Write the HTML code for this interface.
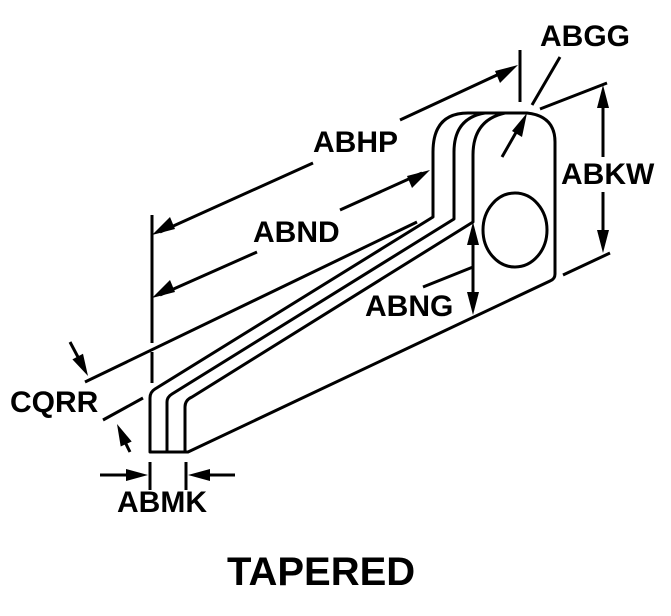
<!DOCTYPE html>
<html><head><style>
html,body{margin:0;padding:0;background:#fff;}
svg{display:block;}
text{font-family:"Liberation Sans",Arial,sans-serif;font-weight:bold;fill:#000;}
</style></head><body>
<svg width="671" height="616" viewBox="0 0 671 616" xmlns="http://www.w3.org/2000/svg">
<g fill="none" stroke="#000" stroke-width="3" stroke-linejoin="round">
<path d="M150,452 L150,398 Q150,392 155,389 L433,217 L433,152 Q433,113 468,113 L527,113 Q555,116 555,142 L555,274 Q555,279 550,281 L188,452 Z"/>
<path d="M167,452 L167,402 Q167,397 172,394 L454,219 L454,152 Q454,118 485,113"/>
<path d="M185,452 L185,407 Q185,400 192,397 L473,222 L473,155 Q473,120 505,113"/>
<ellipse cx="515" cy="230" rx="32" ry="37"/>
<line x1="152" y1="215" x2="152" y2="343"/>
<line x1="152" y1="352" x2="152" y2="383"/>
<line x1="520" y1="50" x2="520" y2="102"/>
<line x1="85" y1="382" x2="417" y2="222"/>
<line x1="103" y1="420" x2="143" y2="398"/>
<line x1="540" y1="109" x2="607" y2="83"/>
<line x1="563" y1="275" x2="610" y2="253"/>
<line x1="423" y1="287" x2="473" y2="267"/>
<line x1="150" y1="462" x2="150" y2="490"/>
<line x1="186" y1="462" x2="186" y2="490"/>
<line x1="313" y1="163" x2="160" y2="232"/>
<line x1="400" y1="120" x2="510" y2="69"/>
<line x1="257" y1="252" x2="160" y2="295"/>
<line x1="340" y1="210" x2="422" y2="173"/>
<line x1="560" y1="57" x2="532" y2="105"/>
<line x1="502" y1="157" x2="522" y2="122"/>
<line x1="603" y1="95" x2="603" y2="157"/>
<line x1="603" y1="192" x2="603" y2="243"/>
<line x1="473" y1="232" x2="473" y2="305"/>
<line x1="70" y1="342" x2="79" y2="359"/>
<line x1="130" y1="452" x2="125" y2="442"/>
<line x1="100" y1="475" x2="140" y2="475"/>
<line x1="235" y1="475" x2="196" y2="475"/>
</g>
<g fill="#000" stroke="none">
<polygon points="152,235 170,217 175,229"/>
<polygon points="518,65 500,83 495,71"/>
<polygon points="152,298 170,280 175,292"/>
<polygon points="430,170 412,188 407,176"/>
<polygon points="527,113 522,137 512,131"/>
<polygon points="603,85 597,108 609,108"/>
<polygon points="603,253 597,230 609,230"/>
<polygon points="473,222 467,245 479,245"/>
<polygon points="473,315 467,292 479,292"/>
<polygon points="88,376 83,353.8 72.4,359.4"/>
<polygon points="117,424 131.7,441.5 120.7,446.5"/>
<polygon points="148,475 126,469 126,481"/>
<polygon points="188,475 210,469 210,481"/>
</g>
<text x="313" y="152" font-size="30">ABHP</text>
<text x="540" y="46" font-size="30">ABGG</text>
<text x="253" y="242" font-size="30">ABND</text>
<text x="561" y="184" font-size="30">ABKW</text>
<text x="365" y="316" font-size="30">ABNG</text>
<text x="10" y="412" font-size="30">CQRR</text>
<text x="117" y="512" font-size="30">ABMK</text>
<text x="227" y="585" font-size="40">TAPERED</text>
</svg>
</body></html>
